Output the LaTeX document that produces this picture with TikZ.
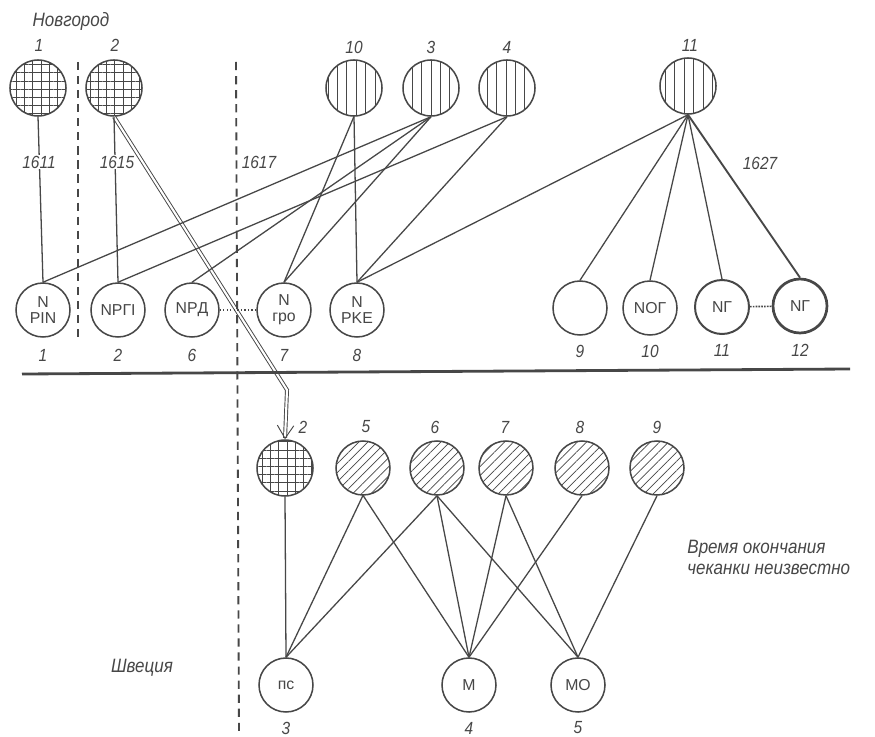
\documentclass[tikz,border=0pt]{standalone}
\usepackage{fontspec}
\setsansfont{Liberation Sans}[FakeStretch=0.88]
\newfontfamily\coinfont{Liberation Sans}
\usetikzlibrary{patterns.meta,arrows.meta}
\definecolor{ink}{gray}{0.28}
\tikzstyle{coin}=[circle,draw=ink,line width=1.3pt,minimum size=1.62cm,inner sep=0pt,align=center,text=ink,font=\coinfont\fontsize{13.5}{13.5}\selectfont]
\tikzstyle{grid coin}=[coin,minimum size=1.68cm,pattern={Hatch[distance=7pt,line width=0.6pt]},pattern color=ink]
\tikzstyle{bar coin}=[coin,minimum size=1.68cm,pattern={Lines[angle=90,distance=8pt,line width=0.7pt]},pattern color=ink]
\tikzstyle{slant coin}=[coin,pattern={Lines[angle=45,distance=5.5pt,line width=0.6pt]},pattern color=ink]
\tikzstyle{num}=[text=ink,inner sep=1pt,font=\sffamily\itshape\fontsize{15}{17}\selectfont]
\tikzstyle{note}=[num,font=\sffamily\itshape\fontsize{16.5}{18}\selectfont]
\tikzstyle{year}=[num,fill=white]
\tikzstyle{link}=[draw=ink,line width=1.1pt]
\tikzstyle{divider}=[draw=ink,line width=1.6pt,dash pattern=on 7pt off 5pt]

\begin{document}
\begin{tikzpicture}[x=0.03cm,y=-0.03cm]
\path[fill=white,use as bounding box] (0,0) rectangle (875,737);

\node[grid coin] (nov1) at (38,88) {};
\node[grid coin] (nov2) at (114,88) {};
\node[bar coin] (t10) at (354,88) {};
\node[bar coin] (t3) at (431,88) {};
\node[bar coin] (t4) at (507,88) {};
\node[bar coin] (t11) at (688,86) {};

\node[note] (novgorod) at (71,22) {Новгород};
\node[num] (n1) at (39,45) {1};
\node[num] (n2) at (115,45) {2};
\node[num] (n10) at (354,47) {10};
\node[num] (n3) at (431,47) {3};
\node[num] (n4) at (507,47) {4};
\node[num] (n11) at (690,45) {11};

\node[coin] (c1) at (43,310) {N\\PIN};
\node[coin] (c2) at (118,310) {NPГI};
\node[coin] (c6) at (192,310) {NPД};
\node[coin] (c7) at (284,310) {N\\гро};
\node[coin] (c8) at (357,310) {N\\PKE};
\node[coin] (c9) at (580,308) {};
\node[coin] (c10) at (650,308) {NOГ};
\node[coin,line width=1.7pt] (c11) at (722,307) {NГ};
\node[coin,line width=2.3pt] (c12) at (800,306) {NГ};

\node[num] (b1) at (43,355) {1};
\node[num] (b2) at (118,355) {2};
\node[num] (b6) at (192,355) {6};
\node[num] (b7) at (284,355) {7};
\node[num] (b8) at (357,355) {8};
\node[num] (b9) at (580,351) {9};
\node[num] (b10) at (650,351) {10};
\node[num] (b11) at (722,350) {11};
\node[num] (b12) at (800,350) {12};

\node[grid coin] (s2) at (285,468) {};
\node[slant coin] (s5) at (363,468) {};
\node[slant coin] (s6) at (437,468) {};
\node[slant coin] (s7) at (506,468) {};
\node[slant coin] (s8) at (582,468) {};
\node[slant coin] (s9) at (657,468) {};

\node[num] (k2) at (303,427) {2};
\node[num] (k5) at (366,427) {5};
\node[num] (k6) at (435,427) {6};
\node[num] (k7) at (505,427) {7};
\node[num] (k8) at (580,427) {8};
\node[num] (k9) at (657,427) {9};

\node[coin] (m3) at (286,685) {пс};
\node[coin] (m4) at (469,685) {М};
\node[coin] (m5) at (578,685) {МО};

\node[num] (r3) at (286,728) {3};
\node[num] (r4) at (469,728) {4};
\node[num] (r5) at (578,728) {5};

\node[note] (sweden) at (142,668) {Швеция};
\node[note,anchor=west,align=left] (unknown) at (686,557) {Время окончания\\чеканки неизвестно};

\coordinate (bend) at (287,390);
\draw[ink,double,double distance=1.8pt,line width=0.8pt,-{Straight Barb[length=11pt,width=14pt,line width=0.8pt 0 0]}] (nov2.south) -- (bend) -- (s2.north);

\draw[divider] (78,62) -- (78,338);
\draw[divider] (236,62) -- (239,732);
\draw[ink,line width=2.4pt] (22,374) -- (850,369);

\draw[link] (nov1.south) -- (c1.north);
\draw[link] (nov2.south) -- (c2.north);
\draw[link] (t10.south) -- (c7.north);
\draw[link] (t10.south) -- (c8.north);
\draw[link] (t3.south) -- (c1.north);
\draw[link] (t3.south) -- (c6.north);
\draw[link] (t3.south) -- (c7.north);
\draw[link] (t4.south) -- (c2.north);
\draw[link] (t4.south) -- (c8.north);
\draw[link] (t11.south) -- (c8.north);
\draw[link] (t11.south) -- (c9.north);
\draw[link] (t11.south) -- (c10.north);
\draw[link] (t11.south) -- (c11.north);
\draw[link,line width=1.6pt] (t11.south) -- (c12.north);
\draw[ink,line width=1pt,dotted] (c6) -- (c7);
\draw[ink,line width=1.4pt,densely dotted] (c11) -- (c12);

\draw[link] (s2.south) -- (m3.north);
\draw[link] (s5.south) -- (m3.north);
\draw[link] (s5.south) -- (m4.north);
\draw[link] (s6.south) -- (m3.north);
\draw[link] (s6.south) -- (m4.north);
\draw[link] (s6.south) -- (m5.north);
\draw[link] (s7.south) -- (m4.north);
\draw[link] (s7.south) -- (m5.north);
\draw[link] (s8.south) -- (m4.north);
\draw[link] (s9.south) -- (m5.north);

\node[year] (y1611) at (39,162) {1611};
\node[year] (y1615) at (117,162) {1615};
\node[num] (y1617) at (259,162) {1617};
\node[num] (y1627) at (760,163) {1627};
\end{tikzpicture}
\end{document}
